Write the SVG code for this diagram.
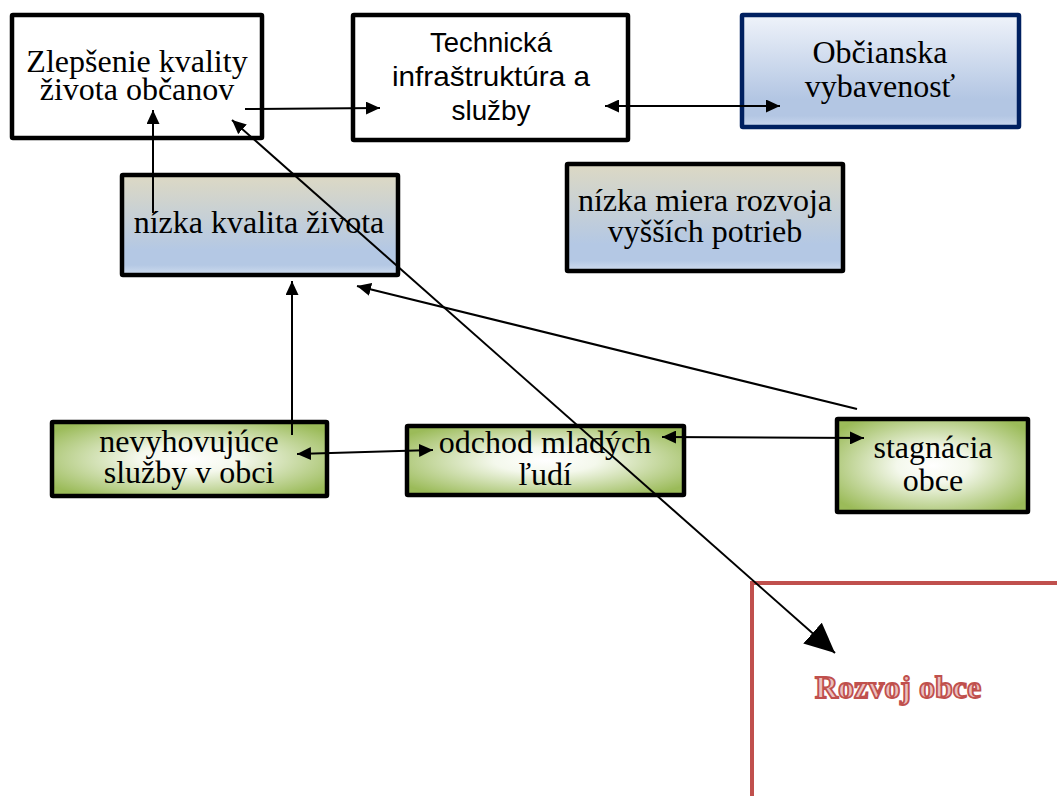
<svg xmlns="http://www.w3.org/2000/svg" width="1057" height="796" viewBox="0 0 1057 796">
<style>
.box{stroke:#000;stroke-width:4.5}
.serif{font-family:"Liberation Serif","Times New Roman",serif;font-size:32px;fill:#000;text-anchor:middle}
.sans{font-family:"Liberation Sans",Arial,sans-serif;font-size:28px;fill:#000;text-anchor:middle}
.con{stroke:#000;stroke-width:2;fill:none}
</style>
<defs>
<linearGradient id="gBeige" x1="0" y1="0" x2="0" y2="1">
<stop offset="0" stop-color="#ddd9c4"/>
<stop offset="0.75" stop-color="#b4c8e4"/>
<stop offset="0.9" stop-color="#b4c8e4"/>
<stop offset="1" stop-color="#d0ddef"/>
</linearGradient>
<linearGradient id="gBlue" x1="0" y1="0" x2="0" y2="1">
<stop offset="0" stop-color="#eff3fa"/>
<stop offset="0.75" stop-color="#b3c6e3"/>
<stop offset="0.9" stop-color="#b3c6e3"/>
<stop offset="1" stop-color="#cbd8ee"/>
</linearGradient>
<radialGradient id="gGreen" cx="0.5" cy="0.5" r="0.62">
<stop offset="0" stop-color="#ffffff"/>
<stop offset="0.3" stop-color="#f4f8ec"/>
<stop offset="1" stop-color="#9bbb59"/>
</radialGradient>
<marker id="arr" viewBox="0 0 14 13" refX="14" refY="6.5" markerWidth="14" markerHeight="13" markerUnits="userSpaceOnUse" orient="auto-start-reverse">
<path d="M0,0 L14,6.5 L0,13 z" fill="#000"/>
</marker>
<marker id="big" viewBox="0 0 30 28" refX="30" refY="14" markerWidth="30" markerHeight="28" markerUnits="userSpaceOnUse" orient="auto">
<path d="M0,0 L30,14 L0,28 z" fill="#000"/>
</marker>
</defs>

<g id="zlepsenie">
<rect class="box" x="12" y="15" width="250" height="123" rx="1" fill="#fff"/>
<text class="serif" x="137" y="72">Zlepšenie kvality</text>
<text class="serif" x="137" y="100">života občanov</text>
</g>

<g id="technicka">
<rect class="box" x="353" y="15" width="275" height="125" rx="1" fill="#fff"/>
<text class="sans" x="491" y="52" textLength="122" lengthAdjust="spacingAndGlyphs">Technická</text>
<text class="sans" x="491" y="86" textLength="198" lengthAdjust="spacingAndGlyphs">infraštruktúra a</text>
<text class="sans" x="491" y="120" textLength="79" lengthAdjust="spacingAndGlyphs">služby</text>
</g>

<g id="obcianska">
<rect x="742" y="15" width="277" height="112" rx="1" fill="url(#gBlue)" stroke="#002060" stroke-width="4.5"/>
<text class="serif" x="880" y="63">Občianska</text>
<text class="serif" x="880" y="97">vybavenosť</text>
</g>

<g id="nizka-miera">
<rect class="box" x="567" y="164" width="276" height="107" rx="1" fill="url(#gBeige)"/>
<text class="serif" x="705" y="211">nízka miera rozvoja</text>
<text class="serif" x="705" y="242">vyšších potrieb</text>
</g>

<g id="nizka-kvalita">
<rect class="box" x="122" y="175" width="276" height="100" rx="1" fill="url(#gBeige)"/>
<text class="serif" x="259" y="233">nízka kvalita života</text>
</g>

<g id="nevyhovujuce">
<rect class="box" x="52" y="422" width="275" height="74" rx="1" fill="url(#gGreen)"/>
<text class="serif" x="189" y="452">nevyhovujúce</text>
<text class="serif" x="189" y="483">služby v obci</text>
</g>

<g id="odchod">
<rect class="box" x="407" y="426" width="277" height="69" rx="1" fill="url(#gGreen)"/>
<text class="serif" x="545" y="453">odchod mladých</text>
<text class="serif" x="545" y="485">ľudí</text>
</g>

<g id="stagnacia">
<rect class="box" x="837" y="419" width="191" height="93" rx="1" fill="url(#gGreen)"/>
<text class="serif" x="933" y="458">stagnácia</text>
<text class="serif" x="933" y="491">obce</text>
</g>

<g id="rozvoj">
<rect x="752" y="583" width="400" height="300" fill="#fff" stroke="#c0504d" stroke-width="4"/>
<text x="898" y="698" font-family="'Liberation Serif','Times New Roman',serif" font-size="32" font-weight="bold" text-anchor="middle" fill="#ebc1c0" stroke="#c0504d" stroke-width="1.8">Rozvoj obce</text>
</g>

<g id="connectors">
<path class="con" d="M245,109 L380,108" marker-end="url(#arr)"/>
<path class="con" d="M605,106 L780,106" marker-start="url(#arr)" marker-end="url(#arr)"/>
<path class="con" d="M153,213 L153,110" marker-end="url(#arr)"/>
<path class="con" d="M232,120 L835,653" stroke-width="1.8" marker-start="url(#arr)" marker-end="url(#big)"/>
<path class="con" d="M292,435 L292,281" marker-end="url(#arr)"/>
<path class="con" d="M857,409 L357,286" marker-end="url(#arr)"/>
<path class="con" d="M297,454 L433,450" marker-start="url(#arr)" marker-end="url(#arr)"/>
<path class="con" d="M662,437 L864,438" marker-start="url(#arr)" marker-end="url(#arr)"/>
</g>
</svg>
